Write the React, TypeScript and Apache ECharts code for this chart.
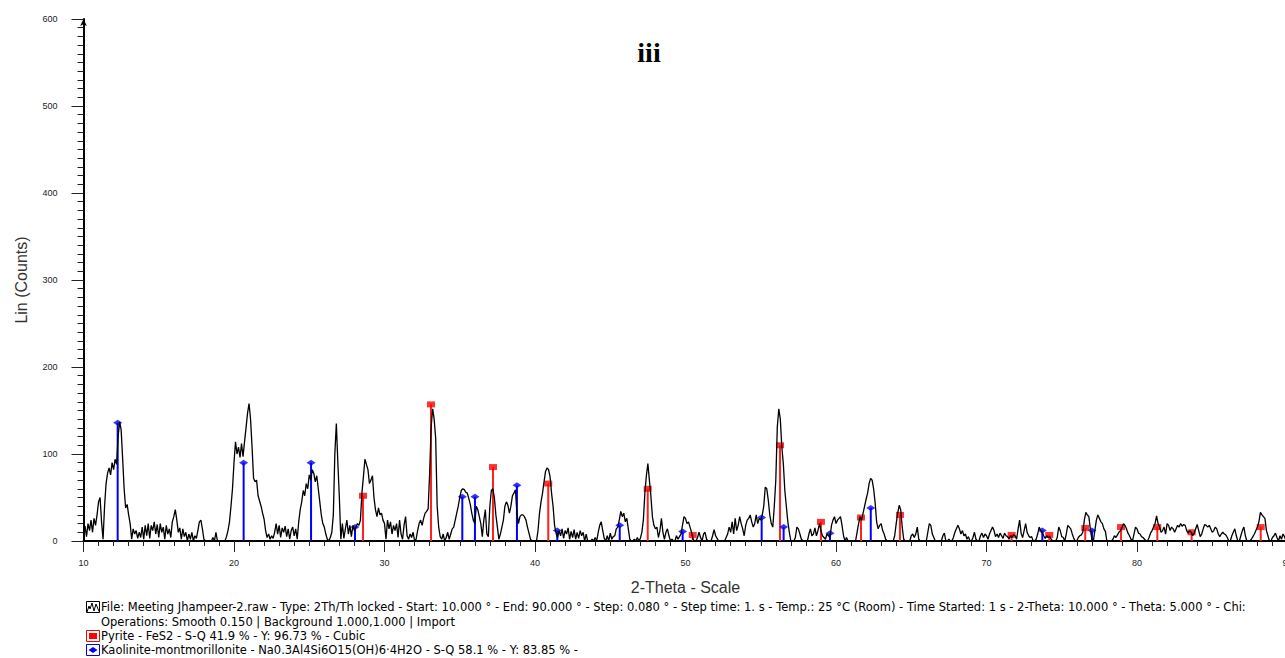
import React, { useEffect, useRef } from "react";
import * as echarts from "echarts";

// ---- data ----
const START = 10;
const STEP = 0.1;
const counts: number[] = [
  8,17,5,20,12,24,10,26,18,30,
  45,50,22,2,40,66,78,84,76,90,
  82,94,88,120,137,128,95,60,38,42,
  30,20,2,14,8,12,3,10,4,16,
  2,18,6,20,3,18,12,22,8,19,
  4,20,10,16,2,18,8,14,4,22,
  28,36,24,10,15,2,14,5,10,0,
  8,2,10,0,6,3,12,22,24,
  14,2,0,0,0,0,0,4,0,10,
  0,0,0,0,0,0,5,12,22,40,
  60,90,114,100,108,96,112,97,114,130,
  147,158,140,108,72,68,70,52,46,40,
  32,25,12,4,8,2,6,3,10,20,
  8,18,4,15,10,17,5,14,2,12,
  16,6,14,2,22,36,45,58,52,66,
  60,76,70,82,78,68,75,60,45,30,
  20,16,8,2,0,4,10,30,100,135,
  90,50,2,20,3,14,24,8,18,
  5,18,12,16,20,18,24,55,74,94,
  88,82,66,70,75,50,36,28,38,30,
  32,24,20,2,24,14,22,8,18,12,
  20,4,24,8,2,18,28,6,2,8,
  4,10,0,2,12,20,24,18,26,32,
  34,37,78,131,152,140,118,40,16,5,
  2,8,0,4,10,2,8,14,16,24,
  32,40,50,58,60,59,56,55,49,42,
  32,24,20,40,36,28,20,5,24,
  36,8,5,40,58,60,50,30,16,2,
  8,16,24,40,45,41,32,40,52,55,
  59,32,20,28,30,30,28,24,16,9,
  2,0,0,0,0,12,32,45,55,68,
  80,84,82,74,55,40,18,9,4,12,
  6,14,3,12,8,15,2,11,4,13,
  2,10,3,12,6,10,0,8,0,0,
  0,2,0,4,0,10,18,22,12,3,
  0,6,0,9,2,5,6,14,16,
  24,34,28,32,22,26,14,2,0,0,
  2,0,4,0,3,10,24,55,75,89,
  70,52,28,18,14,16,4,12,26,10,
  2,10,14,6,0,2,0,0,6,2,
  5,8,18,28,26,20,22,16,10,2,
  0,0,4,10,4,0,8,10,2,0,
  0,0,6,13,6,3,0,0,0,0,
  0,4,8,16,10,22,8,26,12,18,
  28,20,14,6,18,24,26,30,22,
  16,20,30,20,26,24,30,40,62,60,
  47,30,20,16,40,70,131,152,140,108,
  89,58,40,22,10,0,0,0,4,16,
  14,8,2,0,0,0,0,8,14,6,
  8,15,6,12,20,12,6,4,2,8,
  6,4,18,24,28,20,24,26,28,18,
  6,0,4,0,0,0,0,0,0,10,
  20,28,24,32,40,48,55,66,72,70,
  60,44,22,14,18,20,12,8,2,0,
  0,0,0,0,6,20,32,41,36,
  16,2,0,0,0,0,6,8,4,8,
  16,2,0,0,0,0,0,10,20,18,
  8,4,0,0,0,0,0,6,9,0,
  0,2,0,0,4,10,14,18,14,8,
  12,6,8,2,5,0,0,4,10,2,
  0,0,6,9,4,8,6,2,8,12,
  16,12,5,8,4,9,6,3,9,6,
  5,2,6,4,7,6,2,14,24,9,
  4,12,20,10,6,4,5,0,0,
  2,8,16,12,10,6,3,6,4,5,
  2,0,0,0,4,16,12,5,4,0,
  8,18,16,14,8,3,0,0,4,6,
  7,10,24,33,30,28,14,2,0,12,
  24,30,26,22,20,14,11,0,0,0,
  0,2,6,4,7,10,12,15,20,18,
  14,9,6,2,0,8,16,14,9,8,
  5,4,2,0,0,4,9,12,16,20,
  29,20,16,10,12,16,8,20,18,
  12,16,14,10,14,18,16,20,17,19,
  18,12,9,12,10,6,9,14,19,12,
  5,8,14,19,18,16,18,14,10,12,
  16,14,8,5,8,10,8,7,4,0,
  0,6,10,14,6,0,0,6,12,16,
  6,0,0,0,2,5,8,12,16,22,
  33,30,28,26,12,6,0,0,4,6,
  9,4,0,6,2,8,5,0,3
];

const pyritePos = [28.57, 33.09, 37.21, 40.88, 47.49, 50.48, 56.28, 59.0, 61.66, 64.25, 71.67, 74.17, 76.56, 78.94, 81.35, 83.63, 88.22];
const pyriteInt = [52, 157, 85, 66, 60, 7, 110, 22, 27, 30, 7, 7, 15, 16, 16, 10, 16];
const kaoPos = [12.27, 20.64, 25.12, 28.04, 35.17, 36.01, 38.8, 41.48, 45.63, 49.81, 55.06, 56.52, 59.6, 62.31, 73.71, 77.01];
const kaoInt = [136, 90, 90, 16, 51, 51, 64, 12, 18, 11, 27, 16, 9, 38, 12, 12];

const titleText = "iii";
const xName = "2-Theta - Scale";
const yName = "Lin (Counts)";
const legendFile =
  "File: Meeting Jhampeer-2.raw - Type: 2Th/Th locked - Start: 10.000 ° - End: 90.000 ° - Step: 0.080 ° - Step time: 1. s - Temp.: 25 °C (Room) - Time Started: 1 s - 2-Theta: 10.000 ° - Theta: 5.000 ° - Chi:";
const legendOps = "Operations: Smooth 0.150 | Background 1.000,1.000 | Import";
const legendPyrite = "Pyrite - FeS2 - S-Q 41.9 % - Y: 96.73 % - Cubic";
const legendKao = "Kaolinite-montmorillonite - Na0.3Al4Si6O15(OH)6·4H2O - S-Q 58.1 % - Y: 83.85 % -";

const FONT = "'Liberation Sans', Arial, sans-serif";
const LEGEND_FONT = "'DejaVu Sans', Verdana, sans-serif";

function stickSeries(pos: number[], val: number[], color: string) {
  return {
    type: "custom",
    z: 1,
    data: pos.map((p, i) => [p, val[i]]),
    encode: { x: 0, y: 1 },
    renderItem: (_params: any, api: any) => {
      const x = api.value(0);
      const v = api.value(1);
      const p0 = api.coord([x, 0]);
      const p1 = api.coord([x, v]);
      return {
        type: "line",
        shape: { x1: p0[0], y1: p0[1], x2: p1[0], y2: p1[1] },
        style: { stroke: color, lineWidth: 2 },
      };
    },
  };
}

export default function App() {
  const ref = useRef<HTMLDivElement>(null);
  useEffect(() => {
    if (!ref.current) return;
    const chart = echarts.init(ref.current, undefined, { renderer: "svg" });
    const trace = counts.map((c, i) => [+(START + i * STEP).toFixed(2), c]);
    const textStyle = { fontFamily: LEGEND_FONT, fontSize: 11.5, fill: "#000" };
    chart.setOption({
      animation: false,
      backgroundColor: "#fff",
      grid: { left: 83.5, right: -2.5, top: 19, bottom: 117, outerBoundsMode: "none", containLabel: false },
      xAxis: {
        type: "value",
        min: 10,
        max: 90,
        interval: 10,
        name: xName,
        nameLocation: "middle",
        nameGap: 38,
        nameTextStyle: { fontFamily: FONT, fontSize: 16, color: "#333" },
        axisLine: { lineStyle: { color: "#000", width: 2 } },
        axisTick: { length: 11, lineStyle: { color: "#222", width: 1 } },
        minorTick: { show: true, splitNumber: 10, length: 5, lineStyle: { color: "#222", width: 1 } },
        axisLabel: { margin: 17, fontFamily: FONT, fontSize: 9, color: "#222" },
        splitLine: { show: false },
      },
      yAxis: {
        type: "value",
        min: 0,
        max: 600,
        interval: 100,
        name: yName,
        nameLocation: "middle",
        nameGap: 54,
        nameTextStyle: { fontFamily: FONT, fontSize: 16, color: "#333" },
        axisLine: { show: true, symbol: ["none", "arrow"], symbolSize: [5, 7], lineStyle: { color: "#000", width: 2 } },
        axisTick: { show: true, length: 12, lineStyle: { color: "#222", width: 1 } },
        minorTick: { show: true, splitNumber: 10, length: 6, lineStyle: { color: "#222", width: 1 } },
        axisLabel: { margin: 26, fontFamily: FONT, fontSize: 9, color: "#222" },
        splitLine: { show: false },
      },
      series: [
        stickSeries(kaoPos, kaoInt, "#0000ff"),
        stickSeries(pyritePos, pyriteInt, "#ff2020"),
        {
          type: "scatter",
          z: 2,
          symbol: "diamond",
          symbolSize: [9, 6],
          itemStyle: { color: "#0000ff" },
          data: kaoPos.map((p, i) => [p, kaoInt[i]]),
        },
        {
          type: "scatter",
          z: 2,
          symbol: "rect",
          symbolSize: [8, 6],
          itemStyle: { color: "#ff0000" },
          data: pyritePos.map((p, i) => [p, pyriteInt[i]]),
        },
        {
          type: "line",
          z: 3,
          data: trace,
          showSymbol: false,
          symbol: "none",
          lineStyle: { color: "#000", width: 1.3 },
        },
      ],
      graphic: [
        {
          type: "text",
          x: 649,
          y: 52,
          style: {
            text: titleText,
            fontFamily: "'Liberation Serif', 'Times New Roman', serif",
            fontWeight: "bold",
            fontSize: 28,
            fill: "#000",
            align: "center",
            verticalAlign: "middle",
          },
        },
        // file icon
        { type: "rect", shape: { x: 86.5, y: 601.5, width: 13, height: 11 }, style: { fill: "#fff", stroke: "#000", lineWidth: 1 } },
        {
          type: "polyline",
          shape: { points: [[87, 612], [89, 606], [90, 609], [92, 603], [94, 611], [96, 604], [98, 609], [99.5, 612]] },
          style: { stroke: "#000", lineWidth: 1, fill: null },
        },
        { type: "text", x: 101, y: 607, style: { ...textStyle, text: legendFile, verticalAlign: "middle" } },
        { type: "text", x: 101, y: 622, style: { ...textStyle, text: legendOps, verticalAlign: "middle" } },
        // pyrite icon
        { type: "rect", shape: { x: 86.5, y: 630.5, width: 13, height: 11 }, style: { fill: "#fff", stroke: "#ff0000", lineWidth: 1 } },
        { type: "rect", shape: { x: 89, y: 633, width: 8, height: 6 }, style: { fill: "#ff0000" } },
        { type: "text", x: 101, y: 636, style: { ...textStyle, text: legendPyrite, verticalAlign: "middle" } },
        // kaolinite icon
        { type: "rect", shape: { x: 86.5, y: 644.5, width: 13, height: 11 }, style: { fill: "#fff", stroke: "#0000ff", lineWidth: 1 } },
        {
          type: "polygon",
          shape: { points: [[88.5, 650], [93, 647], [97.5, 650], [93, 653]] },
          style: { fill: "#0000ff" },
        },
        { type: "text", x: 101, y: 650, style: { ...textStyle, text: legendKao, verticalAlign: "middle" } },
      ],
    });
    return () => chart.dispose();
  }, []);
  return (
    <div
      ref={ref}
      style={{ position: "absolute", left: 0, top: 0, width: 1285, height: 658, overflow: "hidden" }}
    />
  );
}
